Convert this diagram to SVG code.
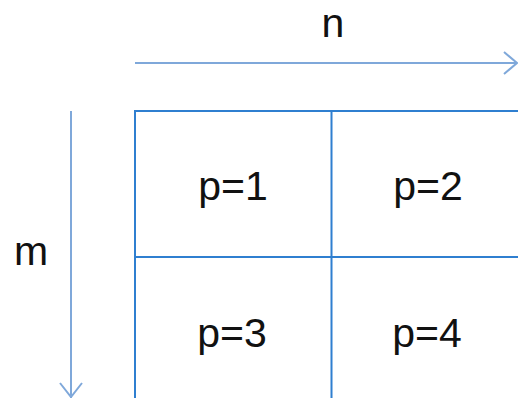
<svg xmlns="http://www.w3.org/2000/svg" width="518" height="398" viewBox="0 0 518 398">
<style>
.grid{stroke:#2F7FD0;stroke-width:2;fill:none}
.ax{stroke:#7FA8DA;stroke-width:2;fill:none}
text{font-family:"Liberation Sans",Arial,sans-serif;font-size:41px;fill:#111;text-anchor:middle}
</style>
<rect width="518" height="398" fill="#fff"/>
<g id="connectors">
<path class="ax" d="M135 63H517M504 52L517 63L504 74"/>
<path class="ax" d="M71 111V398M60 383L71 397L82 383"/>
</g>
<g id="grid">
<path class="grid" d="M135 400V111H520M331.5 111V400M135 257H520"/>
</g>
<g id="label-n"><text x="333" y="37">n</text></g>
<g id="label-m"><text x="31" y="265">m</text></g>
<g id="cell1"><text x="233" y="200">p=1</text></g>
<g id="cell2"><text x="428" y="200">p=2</text></g>
<g id="cell3"><text x="232" y="347">p=3</text></g>
<g id="cell4"><text x="427" y="347">p=4</text></g>
</svg>
